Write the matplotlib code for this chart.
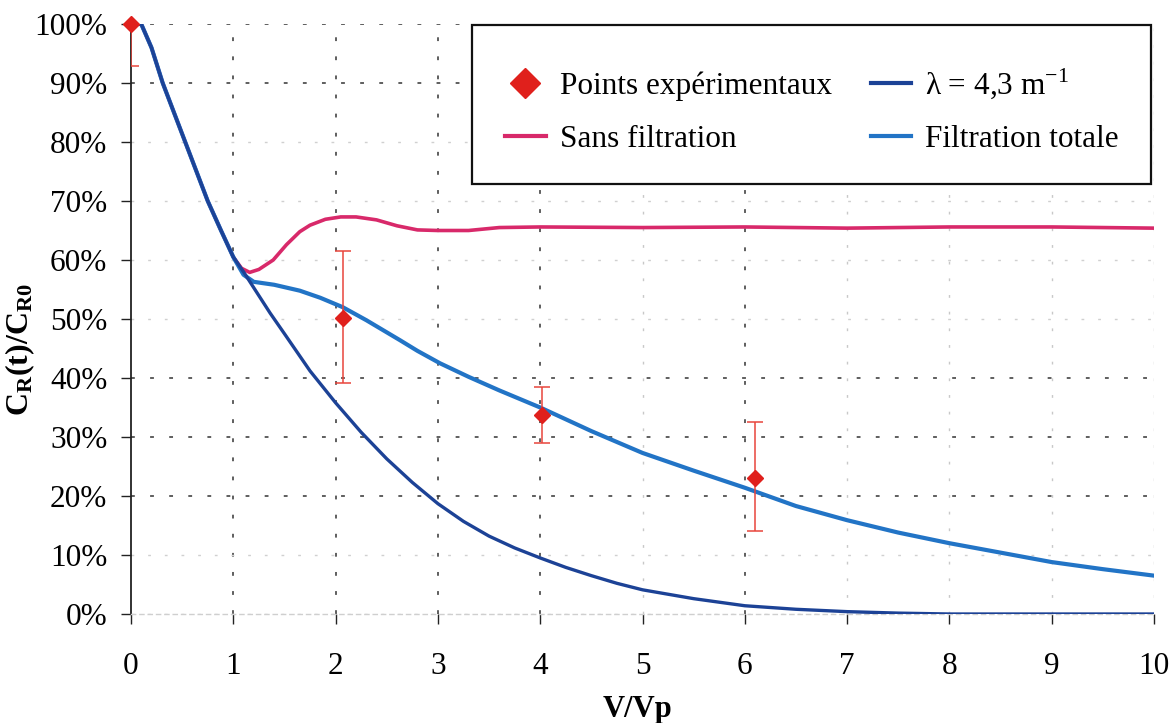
import matplotlib
matplotlib.use("Agg")
import matplotlib.pyplot as plt
from matplotlib.lines import Line2D
from matplotlib.patches import Rectangle
from matplotlib.ticker import FuncFormatter

plt.rcParams['font.family'] = ['Liberation Serif', 'DejaVu Serif']
plt.rcParams['mathtext.fontset'] = 'custom'
plt.rcParams['mathtext.rm'] = 'Liberation Serif'
plt.rcParams['mathtext.bf'] = 'Liberation Serif:bold'

# ---- data ----
lam_x = [0, 0.1, 0.2, 0.31, 0.42, 0.53, 0.64, 0.75, 0.88, 1.0, 1.1, 1.2, 1.36, 1.5, 1.75,
         2.0, 2.25, 2.5, 2.75, 3.0, 3.25, 3.5, 3.75, 4.0, 4.25, 4.5, 4.75, 5.0, 5.5, 6.0,
         6.5, 7.0, 7.5, 8.0, 9.0, 10.0]
lam_y = [100, 100, 96, 90, 85, 80, 75, 70, 65, 60.5, 58, 55.3, 51, 47.5, 41.2,
         35.8, 30.8, 26.3, 22.3, 18.7, 15.7, 13.2, 11.2, 9.5, 7.9, 6.5, 5.2, 4.1, 2.6, 1.4,
         0.8, 0.4, 0.15, 0, 0, 0]

tot_x = [0, 0.1, 0.2, 0.31, 0.42, 0.53, 0.64, 0.75, 0.88, 1.0, 1.1, 1.2, 1.4, 1.65, 1.85,
         2.07, 2.3, 2.63, 2.8, 3.02, 3.3, 3.6, 4.0, 4.5, 5.0, 5.5, 6.0, 6.5, 7.0, 7.5, 8.0,
         8.5, 9.0, 9.5, 10.0]
tot_y = [100, 100, 96, 90, 85, 80, 75, 70, 65, 60.5, 57.5, 56.3, 55.8, 54.8, 53.6,
         52, 49.8, 46.4, 44.6, 42.5, 40.2, 37.9, 35, 31, 27.3, 24.3, 21.4, 18.3, 15.9, 13.8, 12,
         10.4, 8.8, 7.6, 6.5]

sans_x = [0, 0.1, 0.2, 0.31, 0.42, 0.53, 0.64, 0.75, 0.88, 1.0, 1.08, 1.16, 1.25, 1.39, 1.52,
          1.65, 1.75, 1.9, 2.05, 2.2, 2.4, 2.6, 2.8, 3.0, 3.3, 3.6, 4.0, 5.0, 6.0, 7.0, 8.0, 9.0, 10.0]
sans_y = [100, 100, 96, 90, 85, 80, 75, 70, 65, 60.5, 58.6, 57.9, 58.4, 60, 62.6,
          64.8, 65.9, 66.9, 67.3, 67.3, 66.8, 65.8, 65.1, 65, 65, 65.5, 65.6, 65.5, 65.6, 65.4, 65.6, 65.6, 65.4]

exp_x = [0, 2.07, 4.02, 6.1]
exp_y = [100, 50.2, 33.8, 23.1]
exp_lo = [92.8, 39.1, 28.9, 14.0]
exp_hi = [107.2, 61.5, 38.5, 32.5]

x_ticks = [0, 1, 2, 3, 4, 5, 6, 7, 8, 9, 10]
y_ticks = [0, 10, 20, 30, 40, 50, 60, 70, 80, 90, 100]

# ---- figure ----
fig = plt.figure(figsize=(11.7, 7.23), dpi=100)
ax = fig.add_axes([131 / 1170, 1 - 614 / 723, 1023 / 1170, 590 / 723])

c_sans = '#d8296a'
c_tot = '#2274c6'
c_lam = '#1c4296'
c_pt = '#e0201c'

# grid
dark_x = [1, 2, 3, 4, 6]
faint_x = [5, 7, 8, 9, 10]
dark_y = [20, 30, 40, 90, 100]
faint_y = [0, 10, 50, 60, 70, 80]
for v in dark_x:
    ax.axvline(v, color='#333333', lw=1.1, ls=(0, (2.5, 10)), zorder=1)
for v in faint_x:
    ax.axvline(v, color='#c8c8c8', lw=1.0, ls=(0, (2, 10)), zorder=1)
for v in dark_y:
    ax.axhline(v, color='#333333', lw=1.1, ls=(0, (2.5, 10)), zorder=1)
for v in faint_y:
    ax.axhline(v, color='#d0d0d0', lw=1.0, ls=(0, (2, 10)), zorder=1)

ax.plot(sans_x, sans_y, color=c_sans, lw=2.6, zorder=3, solid_joinstyle='round')
ax.plot(tot_x, tot_y, color=c_tot, lw=3.0, zorder=4, solid_joinstyle='round')
ax.plot(lam_x, lam_y, color=c_lam, lw=2.4, zorder=5, solid_joinstyle='round')

yerr = [[y - lo for y, lo in zip(exp_y, exp_lo)], [hi - y for y, hi in zip(exp_y, exp_hi)]]
eb = ax.errorbar(exp_x, exp_y, yerr=yerr, fmt='D', color=c_pt, ms=8.5, mec=c_pt,
                 ecolor='#e8453c', elinewidth=1.1, capsize=5.5, capthick=1.1, zorder=6)
eb[0].set_clip_on(False)

ax.set_xlim(0, 10)
ax.set_ylim(0, 100)
ax.set_xticks(x_ticks)
ax.set_yticks(y_ticks)
ax.yaxis.set_major_formatter(FuncFormatter(lambda v, p: f"{int(v)}%"))
ax.tick_params(axis='both', labelsize=22.5, direction='out', length=7, width=1.0, color='#222222')
ax.tick_params(axis='y', pad=10)
ax.tick_params(axis='x', pad=20)

for s in ['top', 'right']:
    ax.spines[s].set_visible(False)
ax.spines['left'].set_color('#222222')
ax.spines['left'].set_linewidth(1.3)
ax.spines['bottom'].set_color('#cfcfcf')
ax.spines['bottom'].set_linewidth(1.0)
ax.spines['bottom'].set_linestyle((0, (3, 3)))

ax.set_xlabel('V/Vp', fontsize=22, fontweight='bold')
ax.xaxis.set_label_coords(0.495, -0.138)
ax.xaxis.label.set_va('top')
ax.set_ylabel(r'$\mathbf{C_{R}(t)/C_{R0}}$', fontsize=23)
ax.yaxis.set_label_coords(-0.092, 0.449)

# legend
rect = Rectangle((472 / 1170, 1 - 184 / 723), 679 / 1170, 159 / 723, transform=fig.transFigure,
                 facecolor='white', edgecolor='#111111', lw=1.6, zorder=10)
fig.patches.append(rect)

h_pt = Line2D([], [], marker='D', color=c_pt, ls='none', ms=15)
h_sans = Line2D([], [], color=c_sans, lw=3)
h_lam = Line2D([], [], color=c_lam, lw=3)
h_tot = Line2D([], [], color=c_tot, lw=3)
leg = fig.legend([h_pt, h_sans, h_lam, h_tot],
                 ['Points expérimentaux', 'Sans filtration', r'λ = 4,3 m$^{\mathregular{-1}}$', 'Filtration totale'],
                 ncol=2, loc='center', bbox_to_anchor=(812 / 1170, 1 - 110 / 723),
                 frameon=False, fontsize=22.5, handlelength=1.3, handletextpad=0.45,
                 columnspacing=1.25, labelspacing=0.75, borderpad=0.2)
leg.set_zorder(11)

fig.savefig('out.png', dpi=100)
